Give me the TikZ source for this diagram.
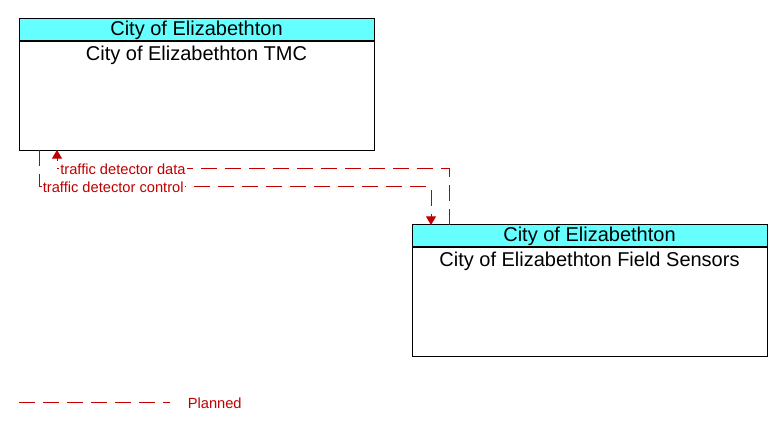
\documentclass[tikz,border=0pt]{standalone}
\usepackage{fontspec}
\setmainfont{Liberation Sans}
\usepackage{tikz}
\usetikzlibrary{calc,arrows.meta}
\definecolor{headcyan}{RGB}{102,255,255}
\definecolor{flowred}{RGB}{192,0,0}
\tikzset{
   head node/.style={rectangle,draw=black,fill=headcyan,minimum width=355*0.75pt,minimum height=22*0.75pt,inner sep=0pt,font=\fontsize{15}{17}\selectfont},
   body node/.style={rectangle,draw=black,fill=white,minimum width=355*0.75pt,minimum height=109*0.75pt,inner sep=0pt},
   body text/.style={inner sep=3pt,font=\fontsize{15}{17}\selectfont},
   flow/.style={draw=flowred,line width=0.75pt,dash pattern=on 12pt off 6pt,-{Triangle[width=7.5pt,length=6.5pt]}},
   flow label/.style={fill=white,text=flowred,inner sep=1pt,font=\fontsize{11}{13}\selectfont}
}
\begin{document}
\begin{tikzpicture}[x=0.75pt,y=-0.75pt,line width=0.75pt]
\useasboundingbox (0,0) rectangle (783,431);
% terminators
\node[head node] (tmc head) at (196.5,30) {City of Elizabethton};
\node[body node,anchor=north] (tmc) at (tmc head.south) {};
\node[body text,anchor=north] at (tmc.north) {City of Elizabethton TMC};
\node[head node] (fs head) at (589.5,236) {City of Elizabethton};
\node[body node,anchor=north] (fs) at (fs head.south) {};
\node[body text,anchor=north] at (fs.north) {City of Elizabethton Field Sensors};
%
\coordinate (data start) at (449,225);
\coordinate (data bend) at (57,169);
\coordinate (data end) at (57,150);
\coordinate (ctrl start) at (39,150);
\coordinate (ctrl bend) at (431,187);
\coordinate (ctrl end) at (431,225);
\draw[flow] (data start) |- (data bend) -- (data end);
\draw[flow] (ctrl start) |- (ctrl bend) -- (ctrl end);
\node[flow label,anchor=west] at (58.5,169) {traffic detector data};
\node[flow label,anchor=west] at (41,187) {traffic detector control};
% legend
\coordinate (legend start) at (19,403);
\coordinate (legend end) at (170,403);
\draw[draw=flowred,dash pattern=on 12pt off 6pt] (legend start) -- (legend end);
\node[flow label,anchor=west] at (186,403) {Planned};
\end{tikzpicture}
\end{document}
